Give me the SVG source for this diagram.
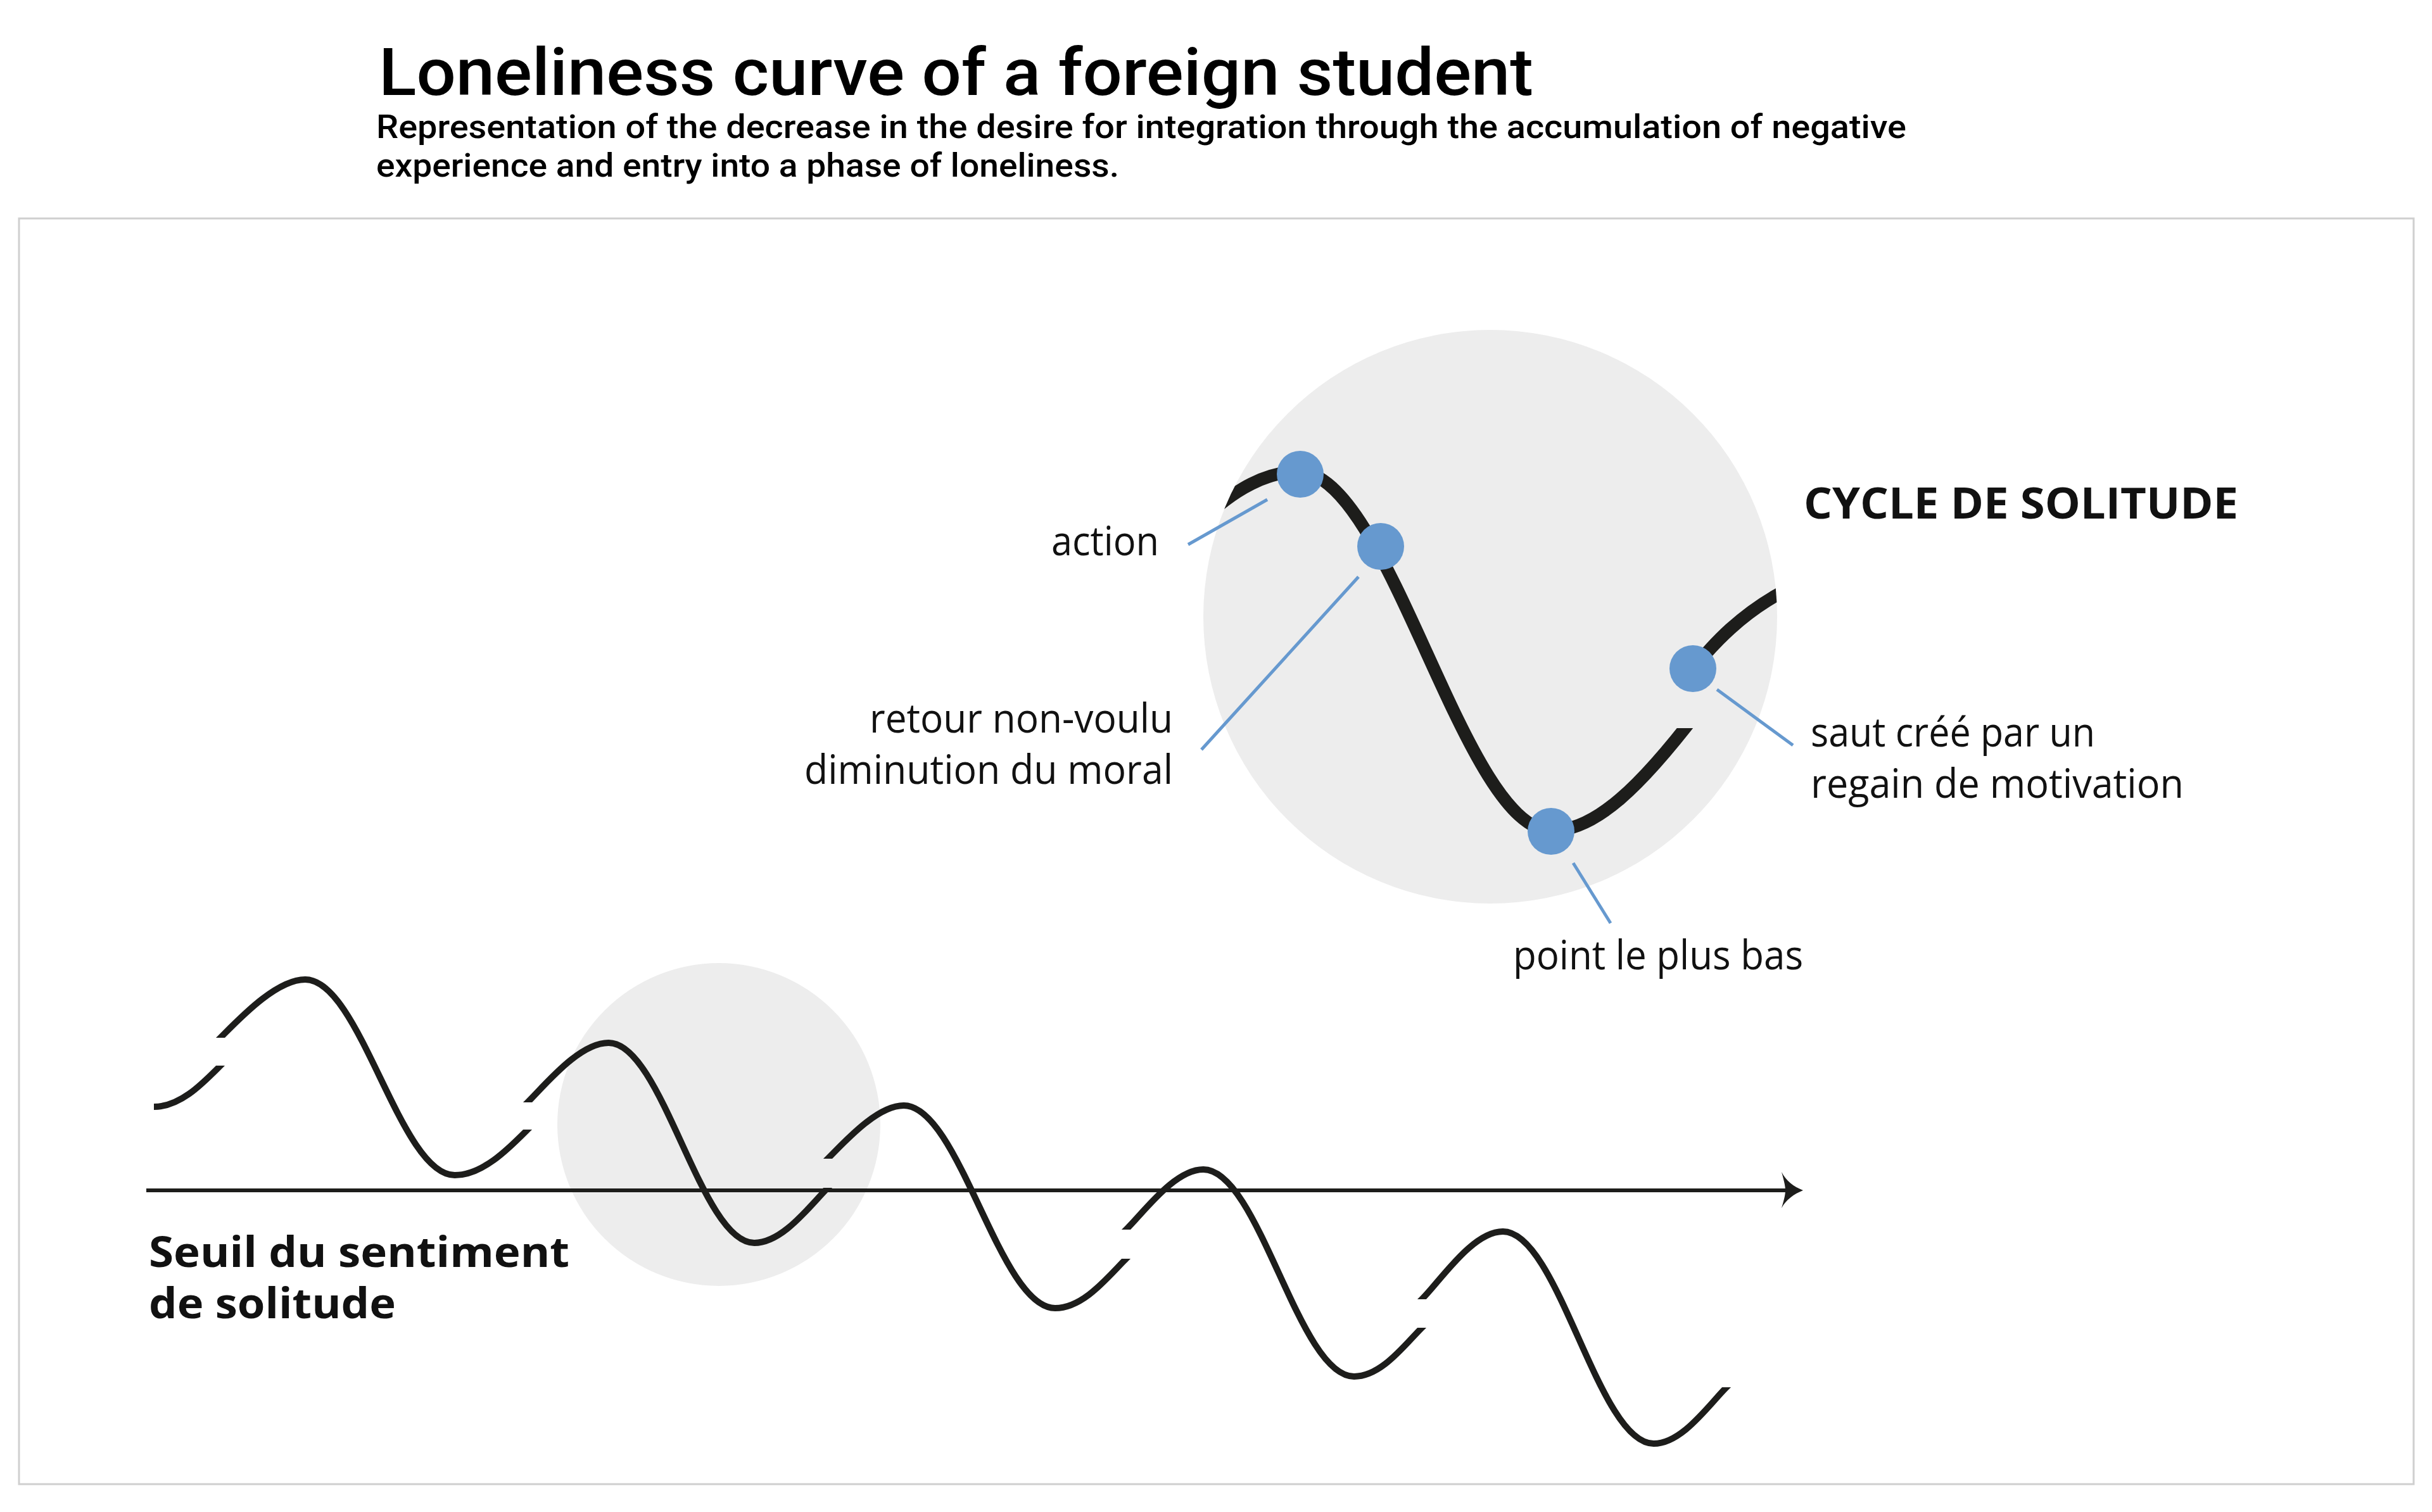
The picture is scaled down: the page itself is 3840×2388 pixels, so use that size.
<svg xmlns="http://www.w3.org/2000/svg" width="3840" height="2388" viewBox="0 0 3840 2388">
  <style>
    .title { font-family: Roboto, "Liberation Sans", sans-serif; font-weight: 500; fill: #000; }
    .lbl { font-family: "Open Sans", "Noto Sans", "Liberation Sans", sans-serif; font-size: 64px; fill: #111; }
    .bold { font-family: "Open Sans", "Noto Sans", "Liberation Sans", sans-serif; font-weight: 700; fill: #111; }
    .halo { fill: #ededed; }
    .wave { fill: none; stroke: #1d1d1b; stroke-width: 10; stroke-linecap: butt; stroke-linejoin: round; }
    .bigcurve { fill: none; stroke: #1d1d1b; stroke-width: 20; stroke-linecap: butt; }
    .dot { fill: #6699cf; }
    .leader { stroke: #6699cf; stroke-width: 5; fill: none; }
    .axis { stroke: #1d1d1b; stroke-width: 6; fill: none; }
  </style>
  <defs>
    <clipPath id="bigClip">
      <circle cx="2353" cy="974" r="453"/>
    </clipPath>
    <mask id="waveGaps" maskUnits="userSpaceOnUse" x="0" y="0" width="3840" height="2388">
      <rect x="0" y="0" width="3840" height="2388" fill="#fff"/>
      <rect x="318" y="1639" width="60" height="44" fill="#000"/>
      <rect x="803" y="1741" width="60" height="43" fill="#000"/>
      <rect x="1277" y="1830" width="60" height="46" fill="#000"/>
      <rect x="1748" y="1942" width="60" height="46" fill="#000"/>
      <rect x="2215" y="2052" width="60" height="45" fill="#000"/>
      <rect x="2696" y="2100" width="60" height="91" fill="#000"/>
    </mask>
    <mask id="bigGap" maskUnits="userSpaceOnUse" x="0" y="0" width="3840" height="2388">
      <rect x="0" y="0" width="3840" height="2388" fill="#fff"/>
      <rect x="2610" y="1095" width="110" height="55" fill="#000"/>
    </mask>
  </defs>

  <rect x="0" y="0" width="3840" height="2388" fill="#fff"/>

  <g id="header">
    <text class="title" x="598" y="150" font-size="104" textLength="1823" lengthAdjust="spacingAndGlyphs">Loneliness curve of a foreign student</text>
    <text class="title" x="594" y="218" font-size="52" textLength="2416" lengthAdjust="spacingAndGlyphs">Representation of the decrease in the desire for integration through the accumulation of negative</text>
    <text class="title" x="594" y="279" font-size="52" textLength="1173" lengthAdjust="spacingAndGlyphs">experience and entry into a phase of loneliness.</text>
  </g>

  <rect id="frame" x="30" y="345" width="3781" height="1999" fill="none" stroke="#cfcfcf" stroke-width="3"/>

  <g id="halos">
    <circle class="halo" cx="2353" cy="974" r="453"/>
    <circle class="halo" cx="1135" cy="1776" r="255"/>
  </g>

  <g id="loneliness-wave" mask="url(#waveGaps)">
    <path class="wave" d="M243,1748 C285,1748 320,1711 348,1683 L362,1669
      M334,1653 L348,1639 C378,1609 436,1547 482,1547 C569,1547 631,1856 718,1856 C763,1856 805,1812 833,1784 L847,1770
      M819,1755 L833,1741 C863,1711 915,1647 961,1647 C1046,1647 1106,1963 1191,1963 C1236,1963 1279,1904 1307,1876 L1321,1862
      M1293,1844 L1307,1830 C1335,1802 1385,1746 1427,1746 C1515,1746 1578,2066 1666,2066 C1711,2066 1750,2016 1778,1988 L1792,1974
      M1764,1956 L1778,1942 C1808,1912 1855,1847 1900,1847 C1988,1847 2050,2174 2138,2174 C2181,2174 2217,2125 2245,2097 L2259,2083
      M2231,2066 L2245,2052 C2275,2022 2325,1945 2373,1945 C2461,1945 2523,2280 2611,2280 C2656,2280 2698,2219 2726,2191 L2740,2177"/>
  </g>

  <g id="cycle-curve" clip-path="url(#bigClip)">
    <path class="bigcurve" mask="url(#bigGap)" d="M1890,830 C1950,768 2005,745 2050,745 C2194,745 2310,1312 2450,1312 C2520,1312 2592,1240 2680,1125"/>
    <path class="bigcurve" d="M2662,1070 C2700,1022 2752,962 2840,922"/>
  </g>

  <g id="connectors">
    <line class="axis" x1="231" y1="1880" x2="2830" y2="1880"/>
    <path d="M2847,1880 C2832,1874 2820,1865 2813,1851 C2816,1862 2819,1872 2819,1880 C2819,1888 2816,1898 2813,1908 C2820,1895 2832,1886 2847,1880 Z" fill="#1d1d1b"/>
    <line class="leader" x1="2001" y1="789" x2="1876" y2="860"/>
    <line class="leader" x1="2145" y1="911" x2="1897" y2="1184"/>
    <line class="leader" x1="2484" y1="1363" x2="2543" y2="1458"/>
    <line class="leader" x1="2711" y1="1089" x2="2831" y2="1177"/>
  </g>

  <g id="node-action">
    <circle class="dot" cx="2053" cy="749" r="37"/>
    <text class="lbl" x="1660" y="877" textLength="170" lengthAdjust="spacingAndGlyphs">action</text>
  </g>
  <g id="node-retour">
    <circle class="dot" cx="2180" cy="863" r="37"/>
    <text class="lbl" x="1373" y="1157" textLength="479" lengthAdjust="spacingAndGlyphs">retour non-voulu</text>
    <text class="lbl" x="1270" y="1238" textLength="582" lengthAdjust="spacingAndGlyphs">diminution du moral</text>
  </g>
  <g id="node-point-bas">
    <circle class="dot" cx="2449" cy="1313" r="37"/>
    <text class="lbl" x="2389" y="1531" textLength="458" lengthAdjust="spacingAndGlyphs">point le plus bas</text>
  </g>
  <g id="node-saut">
    <circle class="dot" cx="2673" cy="1056" r="37"/>
    <text class="lbl" x="2859" y="1179" textLength="449" lengthAdjust="spacingAndGlyphs">saut créé par un</text>
    <text class="lbl" x="2859" y="1260" textLength="589" lengthAdjust="spacingAndGlyphs">regain de motivation</text>
  </g>
  <g id="node-cycle-title">
    <text class="bold" x="2848" y="819" font-size="68" textLength="686" lengthAdjust="spacingAndGlyphs">CYCLE DE SOLITUDE</text>
  </g>
  <g id="node-seuil">
    <text class="bold" x="235" y="2001" font-size="66" textLength="664" lengthAdjust="spacingAndGlyphs">Seuil du sentiment</text>
    <text class="bold" x="235" y="2082" font-size="66" textLength="390" lengthAdjust="spacingAndGlyphs">de solitude</text>
  </g>
</svg>
